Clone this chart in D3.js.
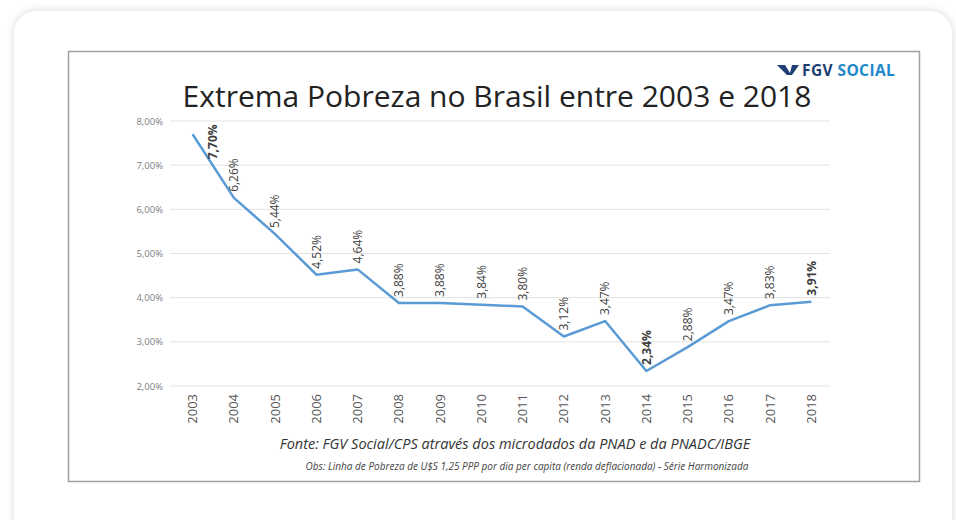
<!DOCTYPE html>
<html>
<head>
<meta charset="utf-8">
<script src="https://cdn.jsdelivr.net/npm/d3@7"></script>
<style>
  body { margin: 0; background: #fff; font-family: "Open Sans", "Noto Sans", sans-serif; }
  .card {
    position: absolute; left: 14px; top: 11px; width: 938px; height: 540px;
    background: #fff; border-radius: 22px;
    box-shadow: 0 0 9px rgba(0,0,0,0.16);
  }
  svg { position: absolute; left: 0; top: 0; }
</style>
</head>
<body>
<div class="card"></div>
<svg id="chart" width="956" height="520"></svg>
<script>
const years = ['2003','2004','2005','2006','2007','2008','2009','2010','2011','2012','2013','2014','2015','2016','2017','2018'];
const pobreza = [7.70, 6.26, 5.44, 4.52, 4.64, 3.88, 3.88, 3.84, 3.80, 3.12, 3.47, 2.34, 2.88, 3.47, 3.83, 3.91];
const destaque = ['2003', '2014', '2018'];
const yTicks = [2, 3, 4, 5, 6, 7, 8];

const svg = d3.select('#chart');

// moldura da imagem
svg.append('rect')
  .attr('x', 68.5).attr('y', 51.5)
  .attr('width', 851).attr('height', 430)
  .attr('fill', '#fff')
  .attr('stroke', '#a0a0a0')
  .attr('stroke-width', 1.5);

const x = d3.scaleBand()
  .domain(years)
  .range([172, 832]);

const y = d3.scaleLinear()
  .domain([2, 8])
  .range([386, 121]);

const fmt = v => v.toFixed(2).replace('.', ',') + '%';

// grade
svg.append('g')
  .selectAll('line')
  .data(yTicks)
  .join('line')
  .attr('x1', 170).attr('x2', 830)
  .attr('y1', d => y(d)).attr('y2', d => y(d))
  .attr('stroke', '#e2e2e2')
  .attr('stroke-width', 1);

const yAxis = svg.append('g')
  .attr('transform', 'translate(166,0)')
  .call(d3.axisLeft(y).tickValues(yTicks).tickSize(0).tickPadding(3).tickFormat(fmt));
yAxis.select('.domain').remove();
yAxis.selectAll('text')
  .attr('fill', '#808080')
  .style('font-family', '"Open Sans", sans-serif')
  .style('font-size', '9.5px');

const xAxis = svg.append('g')
  .attr('transform', 'translate(0,392)')
  .call(d3.axisBottom(x).tickSize(0).tickPadding(0));
xAxis.select('.domain').remove();
xAxis.selectAll('text')
  .attr('transform', 'rotate(-90)')
  .attr('text-anchor', 'end')
  .attr('dy', '0.35em')
  .attr('x', -2)
  .attr('y', 0)
  .attr('fill', '#555')
  .style('font-family', '"Open Sans", sans-serif')
  .style('font-size', '13px');

// linha
const line = d3.line()
  .x((d, i) => x(years[i]) + x.bandwidth() / 2)
  .y(d => y(d));

svg.append('path')
  .datum(pobreza)
  .attr('d', line)
  .attr('fill', 'none')
  .attr('stroke', '#5b9bd5')
  .attr('stroke-width', 2.5)
  .attr('stroke-linejoin', 'round');

// rótulos
svg.append('g')
  .selectAll('text')
  .data(pobreza)
  .join('text')
  .attr('transform', (d, i) => {
    const cx = x(years[i]) + x.bandwidth() / 2 + (i === 0 ? 20 : 0);
    const cy = i === 0 ? y(d) + 25 : y(d) - 6;
    return `translate(${cx},${cy}) rotate(-90)`;
  })
  .attr('dy', '0.35em')
  .attr('text-anchor', 'start')
  .attr('fill', '#404040')
  .style('font-family', '"Open Sans", sans-serif')
  .style('font-size', '12px')
  .style('font-weight', (d, i) => destaque.includes(years[i]) ? 'bold' : 'normal')
  .text(fmt);

// título
svg.append('text')
  .attr('x', 497).attr('y', 107)
  .attr('text-anchor', 'middle')
  .attr('fill', '#222')
  .style('font-family', '"Open Sans", sans-serif')
  .style('font-size', '30px')
  .text('Extrema Pobreza no Brasil entre 2003 e 2018');

// logo
const logo = svg.append('g').attr('transform', 'translate(777,70)');
logo.append('path')
  .attr('d', 'M0,-5 L8,-5 L13,3 L15,-5 L22,-5 L15,5 L10,5 Z')
  .attr('fill', '#1f3f73');
logo.append('text')
  .attr('x', 25).attr('y', 5.5)
  .attr('fill', '#1f3f73')
  .style('font-family', '"Open Sans", sans-serif')
  .style('font-size', '15.5px')
  .style('font-weight', 'bold')
  .style('letter-spacing', '0.4px')
  .text('FGV')
  .append('tspan')
  .attr('fill', '#1e88c8')
  .text(' SOCIAL');

// fonte
svg.append('text')
  .attr('x', 515).attr('y', 449)
  .attr('text-anchor', 'middle')
  .attr('fill', '#333')
  .style('font-family', '"Open Sans", sans-serif')
  .style('font-size', '14.5px')
  .style('font-style', 'italic')
  .text('Fonte: FGV Social/CPS através dos microdados da PNAD e da PNADC/IBGE');

svg.append('text')
  .attr('x', 527).attr('y', 470)
  .attr('text-anchor', 'middle')
  .attr('fill', '#444')
  .style('font-family', '"Open Sans", sans-serif')
  .style('font-size', '10px')
  .style('font-style', 'italic')
  .text('Obs: Linha de Pobreza de U$S 1,25 PPP por dia per capita (renda deflacionada) - Série Harmonizada');
</script>
</body>
</html>
